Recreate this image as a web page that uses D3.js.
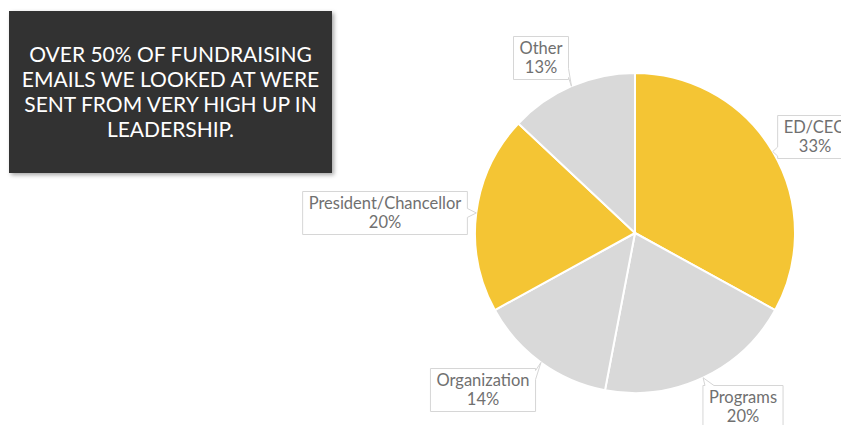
<!DOCTYPE html>
<html>
<head>
<meta charset="utf-8">
<script src="https://cdn.jsdelivr.net/npm/d3@7"></script>
<style>
  html, body { margin: 0; padding: 0; background: #ffffff; }
  svg { display: block; }
</style>
</head>
<body>
<svg id="chart" width="841" height="425"></svg>
<script>
// Who the fundraising emails were sent from (share of emails, %)
const senders = ["ED/CEO", "Programs", "Organization", "President/Chancellor", "Other"];
const shares = [33, 20, 14, 20, 13];
const sliceColors = ["#F4C534", "#D9D9D9", "#D9D9D9", "#F4C534", "#D9D9D9"];
const headline = [
  "OVER 50% OF FUNDRAISING",
  "EMAILS WE LOOKED AT WERE",
  "SENT FROM VERY HIGH UP IN",
  "LEADERSHIP."
];

// Callout box centres, one per slice (layout only)
const calloutCentres = [
  [815, 137], [743, 407], [483, 390], [385, 213], [541, 58]
];

const svg = d3.select("#chart");

// ---- headline panel ----
const defs = svg.append("defs");
const sh = defs.append("filter").attr("id", "panelShadow")
  .attr("x", "-10%").attr("y", "-10%").attr("width", "130%").attr("height", "130%");
sh.append("feDropShadow").attr("dx", 2).attr("dy", 2).attr("stdDeviation", 2)
  .attr("flood-color", "#000").attr("flood-opacity", 0.35);

const panel = { x: 9, y: 11, w: 323, h: 162 };
svg.append("rect")
  .attr("x", panel.x).attr("y", panel.y)
  .attr("width", panel.w).attr("height", panel.h)
  .attr("fill", "#323232")
  .attr("filter", "url(#panelShadow)");

svg.append("g")
  .selectAll("text")
  .data(headline)
  .join("text")
  .attr("x", panel.x + panel.w / 2)
  .attr("y", (d, i) => 62 + i * 25)
  .attr("text-anchor", "middle")
  .attr("font-family", "Lato, 'Open Sans', sans-serif")
  .attr("font-size", 21)
  .attr("fill", "#ffffff")
  .text(d => d);

// ---- pie ----
const cx = 635, cy = 233, R = 160;
const pie = d3.pie().sort(null).value(d => d.value);
const arc = d3.arc().innerRadius(0).outerRadius(R);

const rows = senders.map((s, i) => ({ name: s, value: shares[i], color: sliceColors[i], centre: calloutCentres[i] }));
const arcs = pie(rows);

const gPie = svg.append("g").attr("transform", `translate(${cx},${cy})`);
gPie.selectAll("path")
  .data(arcs)
  .join("path")
  .attr("d", arc)
  .attr("fill", d => d.data.color)
  .attr("stroke", "#ffffff")
  .attr("stroke-width", 2)
  .attr("stroke-linejoin", "round");

// ---- callouts ----
const fontSize = 16.5, lineH = 18.5, padX = 6, padY = 3;
const gLab = svg.append("g");

arcs.forEach(a => {
  const mid = (a.startAngle + a.endAngle) / 2;
  const tip = [cx + R * Math.sin(mid), cy - R * Math.cos(mid)];
  const [bx, by] = a.data.centre;
  const lines = [a.data.name, a.data.value + "%"];

  const g = gLab.append("g");
  const texts = g.selectAll("text")
    .data(lines)
    .join("text")
    .attr("x", bx)
    .attr("y", (d, i) => by + (i - 0.5) * lineH + 5.5)
    .attr("text-anchor", "middle")
    .attr("font-family", "Lato, 'Open Sans', sans-serif")
    .attr("font-size", fontSize)
    .attr("fill", "#707070")
    .text(d => d);

  let tw = 0;
  texts.each(function () { tw = Math.max(tw, this.getComputedTextLength()); });
  const w = tw + padX * 2, h = lines.length * lineH + padY * 2;
  const x0 = bx - w / 2, y0 = by - h / 2, x1 = x0 + w, y1 = y0 + h;

  // outline of the box with a pointer notch toward the slice
  const clamp = (v, lo, hi) => Math.max(lo, Math.min(hi, v));
  const half = 4.5;
  let p;
  if (tip[0] > x1) {
    const m = clamp(tip[1], y0 + half + 2, y1 - half - 2);
    p = [[x0, y0], [x1, y0], [x1, m - half], tip, [x1, m + half], [x1, y1], [x0, y1]];
  } else if (tip[0] < x0) {
    const m = clamp(tip[1], y0 + half + 2, y1 - half - 2);
    p = [[x0, y0], [x1, y0], [x1, y1], [x0, y1], [x0, m + half], tip, [x0, m - half]];
  } else if (tip[1] > y1) {
    const m = clamp(tip[0], x0 + half + 2, x1 - half - 2);
    p = [[x0, y0], [x1, y0], [x1, y1], [m + half, y1], tip, [m - half, y1], [x0, y1]];
  } else {
    const m = clamp(tip[0], x0 + half + 2, x1 - half - 2);
    p = [[x0, y0], [m - half, y0], tip, [m + half, y0], [x1, y0], [x1, y1], [x0, y1]];
  }
  g.insert("path", "text")
    .attr("d", d3.line()(p) + "Z")
    .attr("fill", "#ffffff")
    .attr("stroke", "#d6d6d6")
    .attr("stroke-width", 1);
});
</script>
</body>
</html>
